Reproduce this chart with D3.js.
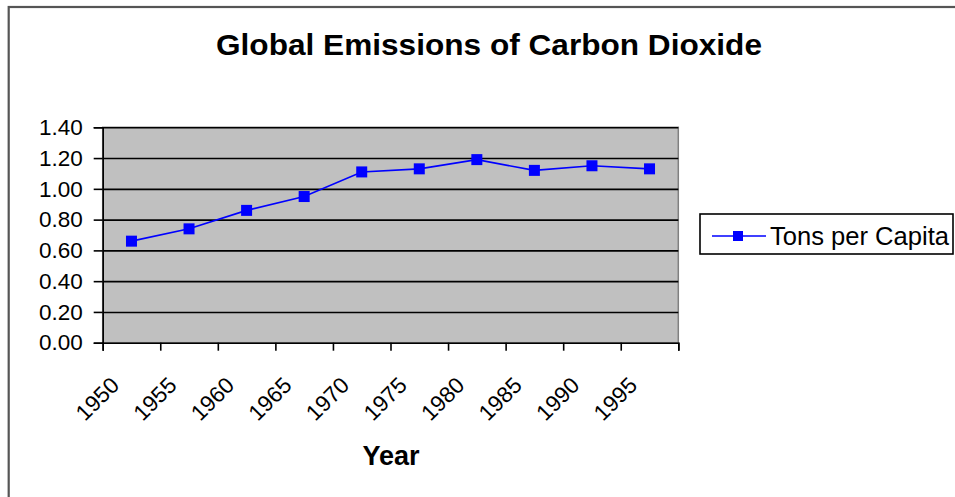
<!DOCTYPE html>
<html>
<head>
<meta charset="utf-8">
<script src="https://cdn.jsdelivr.net/npm/d3@7"></script>
<style>
    body { margin: 0; background: #fff; }
    svg { display: block; font-family: Arial, "Liberation Sans", sans-serif; }
</style>
</head>
<body>
<div id="chart"></div>
<script>
const years = ["1950", "1955", "1960", "1965", "1970", "1975", "1980", "1985", "1990", "1995"];
const tonsPerCapita = [0.66, 0.74, 0.86, 0.95, 1.11, 1.13, 1.19, 1.12, 1.15, 1.13];
const yTicks = [0, 0.2, 0.4, 0.6, 0.8, 1.0, 1.2, 1.4];
const seriesName = "Tons per Capita";

let margin = {top: 127.3, left: 102.7},
    width = 678.3 - margin.left,
    height = 342.7 - margin.top;

const svg = d3.select("#chart")
    .append("svg")
    .attr("width", 955)
    .attr("height", 497);

// outer chart frame (runs off the right and bottom edge)
svg.append("rect")
    .attr("x", 8.7)
    .attr("y", 7)
    .attr("width", 1000)
    .attr("height", 600)
    .attr("fill", "none")
    .attr("stroke", "#555")
    .attr("stroke-width", 2.2);

svg.append("text")
    .attr("x", 489)
    .attr("y", 55)
    .attr("text-anchor", "middle")
    .attr("font-size", 30)
    .attr("font-weight", "bold")
    .attr("textLength", 546)
    .attr("lengthAdjust", "spacingAndGlyphs")
    .text("Global Emissions of Carbon Dioxide");

const g = svg.append("g")
    .attr("transform", `translate(${margin.left}, ${margin.top})`);

/* scales */
const x = d3.scaleBand()
    .domain(years)
    .range([0, width]);

const y = d3.scaleLinear()
    .domain([0, 1.4])
    .range([height, 0]);

// plot area
g.append("rect")
    .attr("width", width)
    .attr("height", height)
    .attr("fill", "#c0c0c0")
    .attr("stroke", "#808080")
    .attr("stroke-width", 1.5);

/* gridlines */
g.append("g")
    .call(d3.axisLeft(y).tickValues(yTicks.slice(1)).tickSize(-width).tickFormat(""))
    .call(a => a.select(".domain").remove())
    .selectAll("line")
    .attr("stroke", "#000")
    .attr("stroke-width", 1.6);

/* Y-axis */
g.append("g")
    .call(d3.axisLeft(y).tickValues(yTicks).tickSize(9).tickPadding(11).tickFormat(d3.format(".2f")))
    .call(a => a.select(".domain").attr("stroke-width", 1.6))
    .call(a => a.selectAll("line").attr("stroke-width", 1.6))
    .selectAll("text")
    .attr("font-size", 22.5)
    .attr("font-family", "Arial, 'Liberation Sans', sans-serif")
    .attr("fill", "#000");

/* X-axis: tick marks between categories */
const xEdges = d3.scaleLinear().domain([0, years.length]).range([0, width]);
g.append("g")
    .attr("transform", `translate(0, ${height})`)
    .call(d3.axisBottom(xEdges).ticks(years.length).tickSize(8).tickFormat(""))
    .call(a => a.select(".domain").attr("stroke-width", 1.6))
    .call(a => a.selectAll("line").attr("stroke-width", 1.6));

g.selectAll("x-label")
    .data(years)
    .enter()
    .append("text")
    .attr("transform", d => `translate(${x(d) + x.bandwidth() / 2 - 11}, ${height + 44}) rotate(-45)`)
    .attr("text-anchor", "end")
    .attr("font-size", 22.5)
    .text(d => d);

svg.append("text")
    .attr("x", 391)
    .attr("y", 465)
    .attr("text-anchor", "middle")
    .attr("font-size", 27)
    .attr("font-weight", "bold")
    .text("Year");

/* series */
const points = years.map((d, i) => ({year: d, value: tonsPerCapita[i]}));
const line = d3.line()
    .x(d => x(d.year) + x.bandwidth() / 2)
    .y(d => y(d.value));

g.append("path")
    .datum(points)
    .attr("d", line)
    .attr("fill", "none")
    .attr("stroke", "#0000ff")
    .attr("stroke-width", 1.6);

g.selectAll("marker-pt")
    .data(points)
    .enter()
    .append("rect")
    .attr("x", d => x(d.year) + x.bandwidth() / 2 - 5.5)
    .attr("y", d => y(d.value) - 5.5)
    .attr("width", 11)
    .attr("height", 11)
    .attr("fill", "#0000ff");

/* legend */
const legend = svg.append("g");
legend.append("rect")
    .attr("x", 700)
    .attr("y", 214)
    .attr("width", 253)
    .attr("height", 40)
    .attr("fill", "#fff")
    .attr("stroke", "#000")
    .attr("stroke-width", 1.6);
legend.append("line")
    .attr("x1", 712).attr("x2", 766)
    .attr("y1", 236).attr("y2", 236)
    .attr("stroke", "#0000ff")
    .attr("stroke-width", 1.6);
legend.append("rect")
    .attr("x", 733).attr("y", 231)
    .attr("width", 10).attr("height", 10)
    .attr("fill", "#0000ff");
legend.append("text")
    .attr("x", 770)
    .attr("y", 244.5)
    .attr("font-size", 25)
    .attr("textLength", 179)
    .attr("lengthAdjust", "spacingAndGlyphs")
    .text(seriesName);
</script>
</body>
</html>
